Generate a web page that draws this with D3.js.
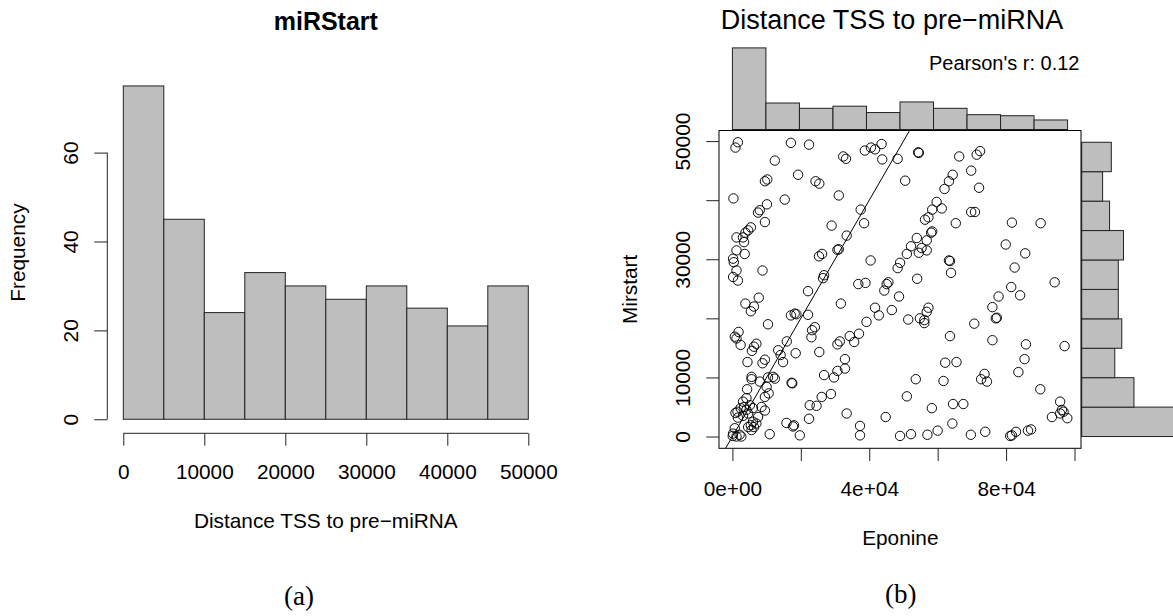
<!DOCTYPE html>
<html><head><meta charset="utf-8">
<script src="https://cdn.jsdelivr.net/npm/d3@7"></script>
<style>
body{margin:0;background:#fff}
text{font-family:"Liberation Sans",Arial,Helvetica,sans-serif;fill:#000}
.serif{font-family:"Liberation Serif","DejaVu Serif",serif}
</style>
</head><body><svg id="c" width="1173" height="616"></svg>
<script>
// ---------- Panel (a): miRStart histogram ----------
const histBreaks = [0,5000,10000,15000,20000,25000,30000,35000,40000,45000,50000];
const histCounts = [75,45,24,33,30,27,30,25,21,30];
const histXTicks = [0,10000,20000,30000,40000,50000];
const histYTicks = [0,20,40,60];

// ---------- Panel (b): scatter Eponine vs Mirstart ----------
const eponine = [
1600,900,17100,22400,12400,32400,33200,38700,40500,41700,43600,43800,9500,10200,19200,24300,25400,300,15300,31100,10100,7500,8000,9500,37500,29000,38500,33400,5400,4600,3800,3100,1200,3400,3600,1200,30700,31100,25300,26200,200,400,40400,8800,1200,200,1600,26800,26500,
48300,54300,54500,66300,71400,72400,50500,69800,64400,63300,62000,72100,59700,58400,61200,69800,70900,57300,56300,65300,81700,90100,58400,58100,53900,56800,52200,55300,56800,54500,51000,79900,85600,49000,48300,63300,63600,63900,82500,54000,
81500,94200,48700,77800,84100,76000,57300,56800,51400,54800,56100,56100,77000,77300,70700,63600,76000,85800,97100,85400,62200,65500,83600,73700,72700,74400,53600,61700,90000,51000,58300,64500,67500,95800,96300,95800,96800,93400,97900,64300,49000,52200,57000,60000,69700,73900,81200,81700,82900,86400,87300,
22400,19700,33400,37300,37300,44800,
36800,38900,45600,45100,44400,22100,7700,3800,6300,5400,31700,41700,42800,46600,39200,17100,18200,18700,22100,10400,24100,23300,23100,1800,700,1200,2400,7000,6300,5700,15900,37000,34300,35600,31400,30700,13400,14100,14800,18500,25400,9500,8800,4400,32900,32900,30700,29700,26800,5600,5600,10400,11900,12400,8000,17300,17500,4300,28800,26100,22600,24600,15800,18000,17700,10900,
10000,10600,9500,4100,3100,1500,2400,3400,4100,4600,3100,1600,900,5100,6000,8500,9500,7500,6000,5400,6300,7000,4600,5600,700,200,1200,2100,2600,100
];
const mirstart = [
49800,48900,49700,49400,46700,47400,47000,48400,48900,48600,49500,46900,43200,43500,44300,43200,42800,40300,40100,40800,39300,37900,38300,36300,38400,35700,36100,34000,35400,34900,34500,33700,33700,32900,30900,31500,31600,31700,30500,30900,30100,29500,29800,28100,28100,27000,26400,27300,26800,
47000,48100,48000,47400,47700,48300,43300,45000,44300,43200,41900,42100,39700,38400,38600,38000,38000,37100,36700,36100,36200,36100,34700,34500,33600,33200,32200,31900,31500,31100,30900,32500,31000,29400,28500,29800,29700,27700,28600,26700,
25300,26100,23700,23700,23900,21900,21800,21100,19800,20000,19700,19200,20000,20100,19100,17000,16300,15600,15300,13100,12500,12600,10900,10600,9700,9300,9700,9400,8000,6800,4800,5500,5500,5900,4500,3900,4200,3300,3100,2200,100,400,300,1000,300,800,100,200,800,1000,1200,
3000,200,3900,1800,200,3300,
25800,26000,26100,25800,24700,24600,23500,22500,22000,21200,22500,21800,20500,21400,19400,20500,20800,20700,20600,19000,18500,18000,16800,17700,16900,16600,15500,15700,15200,14500,16100,17400,17000,16000,16100,15600,14600,13800,12600,14100,14300,13000,12400,12600,13100,11500,11100,10000,10400,10100,9700,10000,10100,9800,9300,9100,9000,8000,7200,6700,5300,5200,2300,1900,1700,400,
8400,7300,6700,6500,5900,4200,4800,5000,4500,3900,3500,3200,4000,5300,4800,5000,4400,3300,2500,1900,1600,2200,1600,1100,1400,500,0,300,0,100
];
const pearsonR = 0.12;
const scatterXTicks = [0,20000,40000,60000,80000,100000];
const scatterXLabels = ["0e+00","","4e+04","","8e+04",""];
const scatterYTicks = [0,10000,20000,30000,40000,50000];
const scatterYLabels = ["0","10000","","30000","","50000"];

// marginal histograms
const topBinEdges = [0,9798,19596,29394,39192,48990,58788,68586,78384,88182,97980];
const topBinCounts = [77,25,20,22,16,26,20,14,13,9];
const rightBinEdges = [0,4980,9960,14940,19920,24900,29880,34860,39840,44820,49800];
const rightBinCounts = [60,30,19,23,21,21,24,16,12,17];

// ================= drawing =================
const svg = d3.select("#c");
svg.append("rect").attr("width",1173).attr("height",616).attr("fill","#fff");
const FS = 20.8;
const GRAY = "#bebebe";

// ---- panel a ----
const ax = d3.scaleLinear().domain([-2000,52000]).range([107.1,544.5]);
const ay = d3.scaleLinear().domain([-3,78]).range([432.6,72.6]);
const hb = histCounts.map((c,i)=>({x0:histBreaks[i],x1:histBreaks[i+1],c}));
svg.append("g").selectAll("rect").data(hb).join("rect")
  .attr("x",d=>ax(d.x0)).attr("y",d=>ay(d.c))
  .attr("width",d=>ax(d.x1)-ax(d.x0)).attr("height",d=>ay(0)-ay(d.c))
  .attr("fill",GRAY).attr("stroke","#222").attr("stroke-width",1);

const gay = svg.append("g").attr("transform","translate(107.3,0)")
  .call(d3.axisLeft(ay).tickValues(histYTicks).tickSize(13).tickFormat(d3.format("d")));
gay.attr("font-size",FS);
gay.select(".domain").remove();
gay.append("line").attr("x1",0).attr("x2",0).attr("y1",ay(histYTicks[0])).attr("y2",ay(histYTicks[histYTicks.length-1])).attr("stroke","#222");
gay.selectAll(".tick line").attr("stroke","#222");
gay.selectAll(".tick text").attr("x",0).attr("dy",0).attr("text-anchor","middle")
  .attr("transform","translate(-29,0) rotate(-90)");

const gax = svg.append("g").attr("transform","translate(0,433.3)")
  .call(d3.axisBottom(ax).tickValues(histXTicks).tickSize(12.4).tickFormat(d3.format("d")));
gax.attr("font-size",FS);
gax.select(".domain").remove();
gax.append("line").attr("y1",0).attr("y2",0).attr("x1",ax(histXTicks[0])).attr("x2",ax(histXTicks[histXTicks.length-1])).attr("stroke","#222");
gax.selectAll(".tick line").attr("stroke","#222");
gax.selectAll(".tick text").attr("y",46).attr("dy",0);

svg.append("text").attr("x",325.8).attr("y",30).attr("text-anchor","middle")
  .attr("font-size",25).attr("font-weight","bold").text("miRStart");
svg.append("text").attr("transform","translate(24.9,252.6) rotate(-90)").attr("text-anchor","middle")
  .attr("font-size",FS).text("Frequency");
svg.append("text").attr("x",325.8).attr("y",528.2).attr("text-anchor","middle")
  .attr("font-size",FS).text("Distance TSS to pre\u2212miRNA");
svg.append("text").attr("class","serif").attr("x",299).attr("y",604.5).attr("text-anchor","middle")
  .attr("font-size",27).text("(a)");

// ---- panel b ----
const bx = d3.scaleLinear().domain([-3919,101899]).range([719,1081]);
const by = d3.scaleLinear().domain([-1992,51792]).range([448.3,130.5]);

// top marginal histogram
const topY = d3.scaleLinear().domain([0,d3.max(topBinCounts)]).range([129.5,47.9]);
svg.append("g").selectAll("rect").data(topBinCounts.map((c,i)=>({a:topBinEdges[i],b:topBinEdges[i+1],c})))
  .join("rect")
  .attr("x",d=>bx(d.a)).attr("width",d=>bx(d.b)-bx(d.a))
  .attr("y",d=>topY(d.c)).attr("height",d=>topY(0)-topY(d.c))
  .attr("fill",GRAY).attr("stroke","#222").attr("stroke-width",1);

// right marginal histogram
const rightX = d3.scaleLinear().domain([0,d3.max(rightBinCounts)]).range([1081.7,1186.2]);
svg.append("g").selectAll("rect").data(rightBinCounts.map((c,i)=>({a:rightBinEdges[i],b:rightBinEdges[i+1],c})))
  .join("rect")
  .attr("x",rightX(0)).attr("width",d=>rightX(d.c)-rightX(0))
  .attr("y",d=>by(d.b)).attr("height",d=>by(d.a)-by(d.b))
  .attr("fill",GRAY).attr("stroke","#222").attr("stroke-width",1);

// clip
svg.append("clipPath").attr("id","plotclip").append("rect")
  .attr("x",719).attr("y",130.5).attr("width",362).attr("height",317.8);

// points
svg.append("g").selectAll("circle").data(eponine.map((x,i)=>[x,mirstart[i]])).join("circle")
  .attr("cx",d=>bx(d[0])).attr("cy",d=>by(d[1])).attr("r",4.7)
  .attr("fill","none").attr("stroke","#000").attr("stroke-width",0.95);

// identity line
const dom = bx.domain();
svg.append("line").attr("clip-path","url(#plotclip)")
  .attr("x1",bx(dom[0])).attr("y1",by(dom[0])).attr("x2",bx(dom[1])).attr("y2",by(dom[1]))
  .attr("stroke","#000").attr("stroke-width",1);

// frame
svg.append("rect").attr("x",719).attr("y",130.5).attr("width",362).attr("height",317.8)
  .attr("fill","none").attr("stroke","#000").attr("stroke-width",1);

// axes
const gbx = svg.append("g").attr("transform","translate(0,448.3)")
  .call(d3.axisBottom(bx).tickValues(scatterXTicks).tickSize(12.7).tickFormat((d,i)=>scatterXLabels[i]));
gbx.attr("font-size",FS);
gbx.select(".domain").remove();
gbx.selectAll(".tick line").attr("stroke","#222");
gbx.selectAll(".tick text").attr("y",47.4).attr("dy",0);

const gby = svg.append("g").attr("transform","translate(719,0)")
  .call(d3.axisLeft(by).tickValues(scatterYTicks).tickSize(12.7).tickFormat((d,i)=>scatterYLabels[i]));
gby.attr("font-size",FS);
gby.select(".domain").remove();
gby.selectAll(".tick line").attr("stroke","#222");
gby.selectAll(".tick text").attr("x",0).attr("dy",0).attr("text-anchor","middle")
  .attr("transform","translate(-28.8,0) rotate(-90)");

svg.append("text").attr("x",892).attr("y",28.5).attr("text-anchor","middle")
  .attr("font-size",27).text("Distance TSS to pre\u2212miRNA");
svg.append("text").attr("x",1079.5).attr("y",70).attr("text-anchor","end")
  .attr("font-size",20).text("Pearson's r: " + pearsonR.toFixed(2));
svg.append("text").attr("x",900.3).attr("y",544.9).attr("text-anchor","middle")
  .attr("font-size",FS).text("Eponine");
svg.append("text").attr("transform","translate(636.6,289.4) rotate(-90)").attr("text-anchor","middle")
  .attr("font-size",FS).text("Mirstart");
svg.append("text").attr("class","serif").attr("x",900.7).attr("y",603).attr("text-anchor","middle")
  .attr("font-size",27).text("(b)");
</script>
</body></html>
